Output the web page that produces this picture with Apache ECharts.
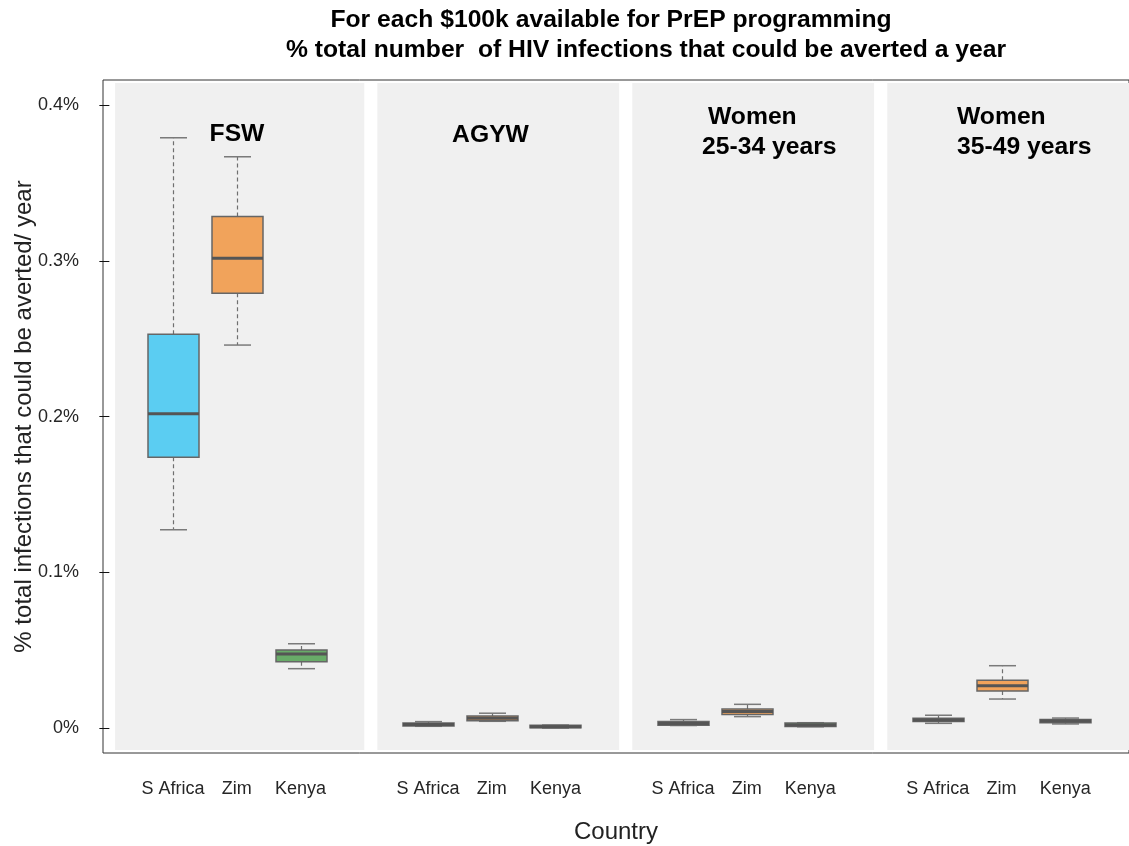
<!DOCTYPE html>
<html>
<head>
<meta charset="utf-8">
<script src="https://cdn.jsdelivr.net/npm/echarts@6/dist/echarts.min.js"></script>
<style>
html,body{margin:0;padding:0;background:#fff;}
#chart{width:1129px;height:846px;}
</style>
</head>
<body>
<div id="chart"></div>
<script>
// ---- data ----
var groups = ['FSW', 'AGYW', 'Women 25-34 years', 'Women 35-49 years'];
var countries = ['S Africa', 'Zim', 'Kenya'];
// values in % (group-major order: FSW SA, Zim, Kenya, AGYW SA, ...)
var whiskerLow  = [0.1273, 0.2459, 0.0381,  0.0011, 0.0043, 0.0000,  0.0016, 0.0073, 0.0008,  0.0030, 0.0186, 0.0026];
var quart1      = [0.1738, 0.2791, 0.0426,  0.0013, 0.0047, 0.0001,  0.0018, 0.0086, 0.0009,  0.0041, 0.0238, 0.0034];
var medians     = [0.2018, 0.3016, 0.0475,  0.0022, 0.0062, 0.0008,  0.0029, 0.0106, 0.0020,  0.0051, 0.0272, 0.0045];
var quart3      = [0.2528, 0.3285, 0.0501,  0.0032, 0.0077, 0.0017,  0.0041, 0.0122, 0.0032,  0.0063, 0.0306, 0.0054];
var whiskerHigh = [0.3790, 0.3668, 0.0541,  0.0041, 0.0095, 0.0019,  0.0054, 0.0152, 0.0034,  0.0082, 0.0400, 0.0064];
var yTickValues = [0, 0.1, 0.2, 0.3, 0.4];
var yTickLabels = ['0%', '0.1%', '0.2%', '0.3%', '0.4%'];

// ---- layout / style ----
var countryColors = ['#5BCDF2', '#F1A35B', '#68AB68'];
var FONT = 'Arial, "Liberation Sans", Helvetica, sans-serif';
var TFS = 24.7;
var yMin = -0.01605, yMax = 0.4161;
var panelBottom = -0.0141, panelTop = 0.4141;
var panelX = [[0.09, 4.0], [4.205, 8.0], [8.205, 12.0], [12.207, 16.0]];

// x positions: group g, country c -> g*4 + c + 1
var positions = [];
var boxData = [];
for (var g = 0; g < groups.length; g++) {
  for (var c = 0; c < countries.length; c++) {
    var i = g * countries.length + c;
    var p = g * 4 + c + 1;
    positions.push(p);
    boxData.push([p, whiskerLow[i], quart1[i], medians[i], quart3[i], whiskerHigh[i], c]);
  }
}

function boldText(txt, x, y, align) {
  return {type: 'text', x: x, y: y, z: 10, style: {text: txt, align: align, verticalAlign: 'middle', fontSize: TFS, fontWeight: 'bold', fontFamily: FONT, fill: '#000'}};
}

var chart = echarts.init(document.getElementById('chart'));
var option = {
  animation: false,
  backgroundColor: '#ffffff',
  grid: {left: 103, right: 0, top: 80, bottom: 93, outerBoundsMode: 'none', containLabel: false, show: true, borderColor: '#333', borderWidth: 1, backgroundColor: 'transparent'},
  xAxis: {
    type: 'value', min: -0.1, max: 16,
    name: 'Country', nameLocation: 'middle', nameGap: 79, nameMoveOverlap: false,
    nameTextStyle: {fontSize: 24, color: '#222', fontFamily: FONT, verticalAlign: 'middle'},
    axisLine: {show: false},
    splitLine: {show: false},
    axisTick: {show: true, inside: false, customValues: positions, length: 11, lineStyle: {color: '#111', width: 1}},
    axisLabel: {
      customValues: positions, margin: 27, fontSize: 18, color: '#262626', fontFamily: FONT,
      formatter: function (v) { return countries[(Math.round(v) - 1) % 4]; }
    }
  },
  yAxis: {
    type: 'value', min: yMin, max: yMax,
    name: '% total infections that could be averted/ year', nameLocation: 'middle', nameGap: 79, nameRotate: 90, nameMoveOverlap: false,
    nameTextStyle: {fontSize: 24, color: '#222', fontFamily: FONT, verticalAlign: 'middle'},
    axisLine: {show: false},
    splitLine: {show: false},
    axisTick: {show: true, inside: false, customValues: yTickValues, length: 10, lineStyle: {color: '#111', width: 1}},
    axisLabel: {
      customValues: yTickValues, margin: 24, fontSize: 18, color: '#262626', fontFamily: FONT,
      formatter: function (v) {
        for (var k = 0; k < yTickValues.length; k++) { if (Math.abs(v - yTickValues[k]) < 1e-9) return yTickLabels[k]; }
        return '';
      }
    }
  },
  graphic: [
    boldText('For each $100k available for PrEP programming', 611, 20, 'center'),
    boldText('% total number  of HIV infections that could be averted a year', 646, 50, 'center'),
    boldText('FSW', 237, 134, 'center'),
    boldText('AGYW', 490.5, 135, 'center'),
    boldText('Women', 708, 117, 'left'),
    boldText('25-34 years', 702, 147, 'left'),
    boldText('Women', 957, 117, 'left'),
    boldText('35-49 years', 957, 147, 'left')
  ],
  series: [
    {
      type: 'custom', z: 1, silent: true,
      data: panelX.map(function (r) { return [r[0], r[1]]; }),
      encode: {x: [0, 1]},
      renderItem: function (params, api) {
        var a = api.coord([api.value(0), panelTop]);
        var b = api.coord([api.value(1), panelBottom]);
        return {type: 'rect', shape: {x: a[0], y: a[1], width: b[0] - a[0], height: b[1] - a[1]}, style: {fill: '#F0F0F0'}};
      }
    },
    {
      type: 'custom', z: 2, silent: true,
      data: boxData,
      encode: {x: 0, y: [1, 2, 3, 4, 5]},
      renderItem: function (params, api) {
        var x = api.value(0);
        var lo = api.coord([x, api.value(1)]);
        var q1 = api.coord([x, api.value(2)]);
        var md = api.coord([x, api.value(3)]);
        var q3 = api.coord([x, api.value(4)]);
        var hi = api.coord([x, api.value(5)]);
        var cx = Math.round(lo[0]) + 0.5;
        var bh = 25.5, ch = 13.5;
        var fill = countryColors[api.value(6)];
        var wStyle = {stroke: '#6f6f6f', lineWidth: 1.2, lineDash: [4, 3]};
        var cStyle = {stroke: '#7a7a7a', lineWidth: 1.5};
        return {type: 'group', children: [
          {type: 'line', shape: {x1: cx, y1: q3[1], x2: cx, y2: hi[1]}, style: wStyle},
          {type: 'line', shape: {x1: cx, y1: q1[1], x2: cx, y2: lo[1]}, style: wStyle},
          {type: 'line', shape: {x1: cx - ch, y1: hi[1], x2: cx + ch, y2: hi[1]}, style: cStyle},
          {type: 'line', shape: {x1: cx - ch, y1: lo[1], x2: cx + ch, y2: lo[1]}, style: cStyle},
          {type: 'rect', shape: {x: cx - bh, y: q3[1], width: 2 * bh, height: q1[1] - q3[1]}, style: {fill: fill, stroke: '#666', lineWidth: 1.5}},
          {type: 'line', shape: {x1: cx - bh, y1: md[1], x2: cx + bh, y2: md[1]}, style: {stroke: '#555', lineWidth: 3}}
        ]};
      }
    }
  ]
};
chart.setOption(option);
</script>
</body>
</html>
